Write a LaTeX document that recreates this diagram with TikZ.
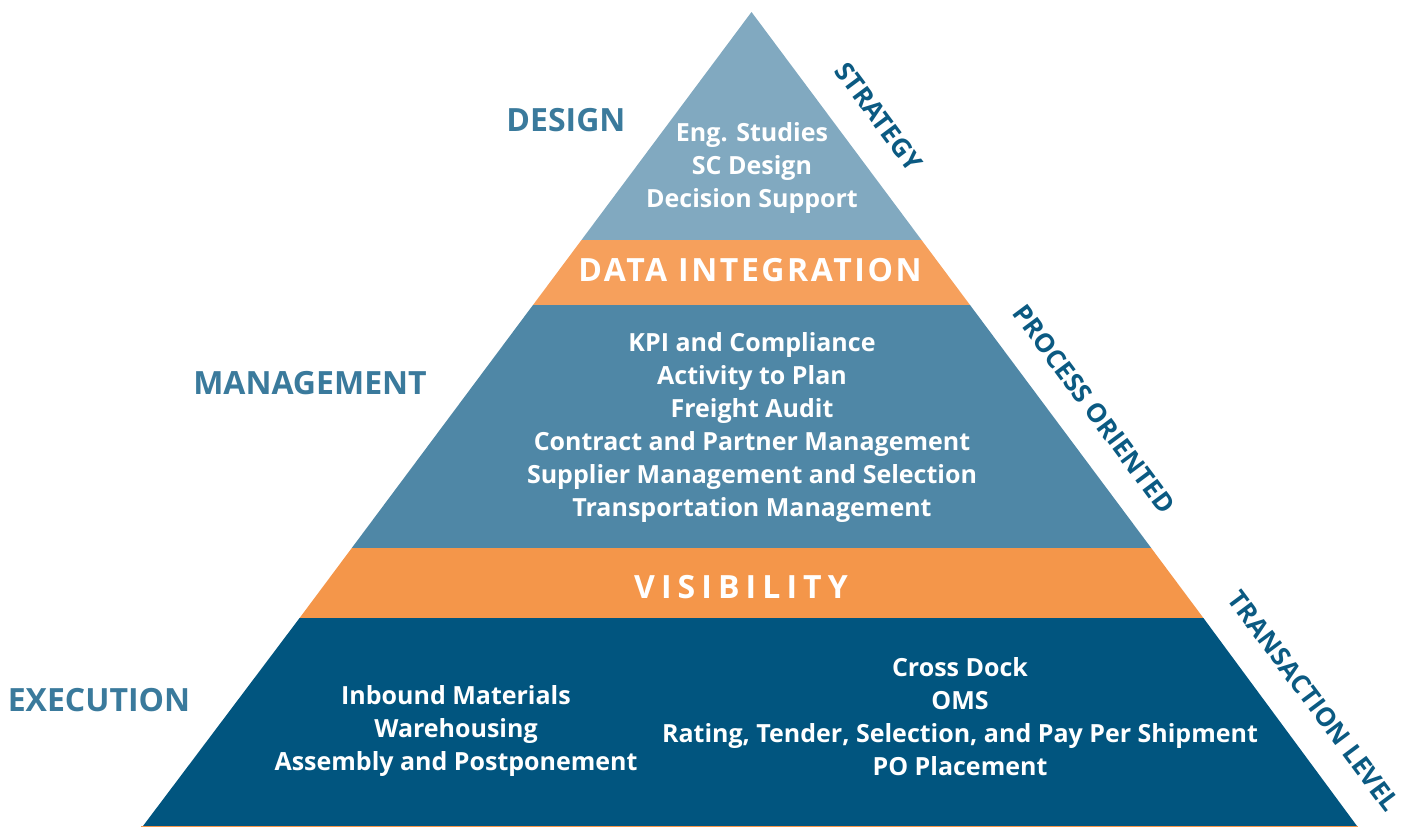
\documentclass[tikz,border=0pt]{standalone}
\usepackage{fontspec}
\setmainfont{Open Sans}
\definecolor{topblue}{HTML}{81A9C0}
\definecolor{midblue}{HTML}{4F87A6}
\definecolor{darkblue}{HTML}{01557F}
\definecolor{orangeA}{HTML}{F6A05C}
\definecolor{orangeB}{HTML}{F4964A}
\definecolor{lvl}{HTML}{3A7A9C}
\definecolor{side}{HTML}{0B5A82}
\tikzset{
  body/.style={text=white, font=\fontsize{25}{33}\selectfont\bfseries, align=center, inner sep=0pt},
  level/.style={text=lvl, font=\fontsize{32}{36}\selectfont\bfseries, inner sep=0pt},
  sidelbl/.style={text=side, font=\fontsize{26}{30}\selectfont\bfseries, rotate=-53.3, inner sep=0pt},
  bandtitle/.style={text=white, font=\fontsize{32}{36}\selectfont\bfseries, inner sep=0pt}
}
\begin{document}
\begin{tikzpicture}[x=1pt,y=-1pt]
\useasboundingbox (0,0) rectangle (1416,827);
% bands
\fill[topblue] (751.5,12) -- (921.5,240) -- (581.5,240) -- cycle;
\fill[orangeA] (581.5,240) -- (921.5,240) -- (970,305) -- (533,305) -- cycle;
\fill[midblue] (533,305) -- (970,305) -- (1151.2,548) -- (351.8,548) -- cycle;
\fill[orangeB] (351.8,548) -- (1151.2,548) -- (1203.4,618) -- (299.6,618) -- cycle;
\fill[darkblue] (299.6,618) -- (1203.4,618) -- (1357,826) -- (143,826) -- cycle;
\draw[orangeB, line width=2.5pt] (141,827) -- (1358,827);
% band titles
\node[bandtitle] (di) at (750,270) {\addfontfeature{LetterSpace=8}DATA INTEGRATION};
\node[bandtitle] (vis) at (741,587) {\addfontfeature{LetterSpace=19}VISIBILITY};
% body texts
\node[body] (design) at (752,168) {Eng. Studies\\SC Design\\Decision Support};
\node[body] (mgmt) at (752,427) {KPI and Compliance\\Activity to Plan\\Freight Audit\\Contract and Partner Management\\Supplier Management and Selection\\Transportation Management};
\node[body] (exl) at (456,731) {Inbound Materials\\Warehousing\\Assembly and Postponement};
\node[body] (exr) at (960,717) {Cross Dock\\OMS\\Rating, Tender, Selection, and Pay Per Shipment\\PO Placement};
% level labels
\node[level] (lD) at (566,120) {DESIGN};
\node[level] (lM) at (310,383) {MANAGEMENT};
\node[level] (lE) at (99,700) {EXECUTION};
% side labels
\node[sidelbl] (sS) at (879,117) {STRATEGY};
\node[sidelbl] (sP) at (1094,409) {PROCESS ORIENTED};
\node[sidelbl] (sT) at (1314,701) {TRANSACTION LEVEL};
\end{tikzpicture}
\end{document}
